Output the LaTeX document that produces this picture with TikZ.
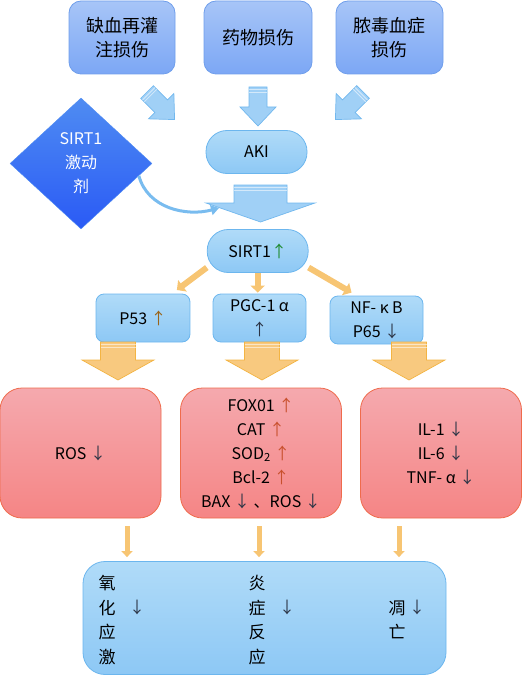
\documentclass[tikz,border=0pt]{standalone}
\usepackage{fontspec}
\setmainfont{Noto Sans CJK SC}
\usetikzlibrary{arrows.meta,shapes.geometric,positioning}

\definecolor{srctop}{HTML}{A7C5F7}
\definecolor{srcbot}{HTML}{7CA7F5}
\definecolor{srcedge}{HTML}{6F9EEB}
\definecolor{pilltop}{HTML}{B0DBF8}
\definecolor{pillbot}{HTML}{8DC8F5}
\definecolor{pilledge}{HTML}{6CB6EE}
\definecolor{dmtop}{HTML}{4F8CF2}
\definecolor{dmbot}{HTML}{2A5AF5}
\definecolor{redtop}{HTML}{F5A9AE}
\definecolor{redbot}{HTML}{F58585}
\definecolor{rededge}{HTML}{EF6B4C}
\definecolor{blfill}{HTML}{A0D0F6}
\definecolor{bledge}{HTML}{72B8EE}
\definecolor{orfill}{HTML}{F8C97F}
\definecolor{oredge}{HTML}{F3B443}
\definecolor{upg}{HTML}{1E8A2E}
\definecolor{upb}{HTML}{9A6418}
\definecolor{upr}{HTML}{C8502D}
\definecolor{dnk}{HTML}{2B3445}

\tikzset{
  srcbox/.style={rectangle,rounded corners=12pt,draw=srcedge,line width=.8pt,
    top color=srctop,bottom color=srcbot,minimum width=106pt,minimum height=73pt,
    font=\fontsize{18}{24}\selectfont},
  pill/.style={rectangle,rounded corners=21pt,draw=pilledge,line width=.8pt,
    top color=pilltop,bottom color=pillbot,minimum width=101pt,minimum height=43pt},
  midbox/.style={rectangle,rounded corners=8pt,draw=pilledge,line width=.8pt,
    top color=pilltop,bottom color=pillbot,minimum width=94pt,minimum height=48pt},
  agonist/.style={diamond,draw=dmtop,top color=dmtop,bottom color=dmbot,text=white,
    minimum width=142pt,minimum height=131pt,inner sep=0pt},
  effbox/.style={rectangle,rounded corners=22pt,draw=rededge,line width=.8pt,
    top color=redtop,bottom color=redbot,minimum width=161pt,minimum height=130pt},
  outbox/.style={rectangle,rounded corners=22pt,draw=pilledge,line width=.8pt,
    top color=pilltop,bottom color=pillbot,minimum width=363pt,minimum height=113pt},
  vtext/.style={font=\fontsize{17}{24.5}\selectfont},
  thinarr/.style={draw=orfill!80!oredge,line width=6pt,-{Triangle[width=14pt,length=7pt]}},
  smallarr/.style={draw=orfill!80!oredge,line width=5pt,-{Triangle[width=11pt,length=6pt]},
    shorten <=8pt,shorten >=4pt},
  curvarr/.style={draw=bledge!85!blfill,line width=3pt,-{Triangle[width=10pt,length=8pt]}},
  pics/blkarr/.style args={#1/#2/#3/#4}{code={
    \path[pic actions] (-#1,0) -- (#1,0) -- (#1,#3) -- (#2,#3) -- (0,#3+#4)
      -- (-#2,#3) -- (-#1,#3) -- cycle;
    \draw[white,opacity=.55,line width=.8pt] (-#1,2.5) -- (#1,2.5) (-#1,5) -- (#1,5);
  }}
}

\begin{document}
\begin{tikzpicture}[x=1pt,y=-1pt,>=Stealth,
  every node/.style={font=\fontsize{16}{24}\selectfont,align=center}]
  \useasboundingbox (0,0) rectangle (529,679);
  % causes of AKI
  \node[srcbox] (isch) at (122,37.5) {缺血再灌\\注损伤};
  \node[srcbox,minimum width=108pt] (drug) at (258,37.5) {药物损伤};
  \node[srcbox,minimum width=107pt] (seps) at (389.5,37.5) {脓毒血症\\损伤};
  \foreach \x/\y/\r in {147/92/45,258/87/0,363/92/-45}
    \pic[fill=blfill,draw=bledge,line width=.7pt,rotate=\r] at (\x,\y) {blkarr=9/18/20/19};
  \node[pill] (aki) at (256.5,152) {AKI};
  \node[agonist] (ago) at (81,163.5) {SIRT1\\激动\\剂};
  \pic[fill=blfill,draw=bledge,line width=.7pt] at (260.5,185) {blkarr=26.5/54.5/18/19};
  \coordinate (crvend) at (219,208);
  \draw[curvarr] (ago.-12) to[out=-75,in=195] (crvend);
  % SIRT1 targets
  \node[pill] (sirt) at (257.7,251) {SIRT1{\color{upg}↑}};
  \node[midbox] (p53) at (143,318) {P53 {\color{upb}↑}};
  \node[midbox,minimum width=93pt] (pgc) at (259.5,318) {PGC-1 α\\{\color{dnk}↑}};
  \node[midbox,minimum width=93pt] (nfkb) at (376.5,320) {NF- κ B\\P65 {\color{dnk}↓}};
  \draw[thinarr,shorten >=6pt] (sirt.198) -- (p53.40);
  \draw[thinarr,shorten >=1pt] (sirt.south) -- (sirt.south |- pgc.north);
  \draw[thinarr,shorten >=6pt] (sirt.-18) -- (nfkb.129);
  \foreach \x in {118,262,409}
    \pic[fill=orfill,draw=oredge,line width=.7pt] at (\x,342) {blkarr=17.5/36/18/20};
  % effects
  \node[effbox] (ros) at (80.5,453) {ROS {\color{dnk}↓}};
  \node[effbox] (oxid) at (261,453) {FOX01 {\color{upr}↑}\\CAT {\color{upr}↑}\\
    SOD\textsubscript{2} {\color{upr}↑}\\Bcl-2 {\color{upr}↑}\\
    BAX {\color{dnk}↓} 、ROS {\color{dnk}↓}};
  \node[effbox] (cyto) at (441,453) {IL-1 {\color{dnk}↓}\\IL-6 {\color{dnk}↓}\\
    TNF- α {\color{dnk}↓}};
  % outcome
  \node[outbox] (res) at (264.5,618) {};
  \draw[smallarr] ([xshift=46.5pt]ros.south) -- ([xshift=46.5pt]ros.south |- res.north);
  \draw[smallarr] ([xshift=-2pt]oxid.south) -- ([xshift=-2pt]oxid.south |- res.north);
  \draw[smallarr] ([xshift=-42pt]cyto.south) -- ([xshift=-42pt]cyto.south |- res.north);
  \node[vtext] (oxs) at (107,620) {氧\\化\\应\\激};
  \node[text=dnk] (oxsd) at (137,607) {↓};
  \node[vtext] (infl) at (257,620) {炎\\症\\反\\应};
  \node[text=dnk] (infld) at (287,607) {↓};
  \node[vtext] (apo) at (397,620) {凋\\亡};
  \node[text=dnk] (apod) at (417,607) {↓};
\end{tikzpicture}
\end{document}
